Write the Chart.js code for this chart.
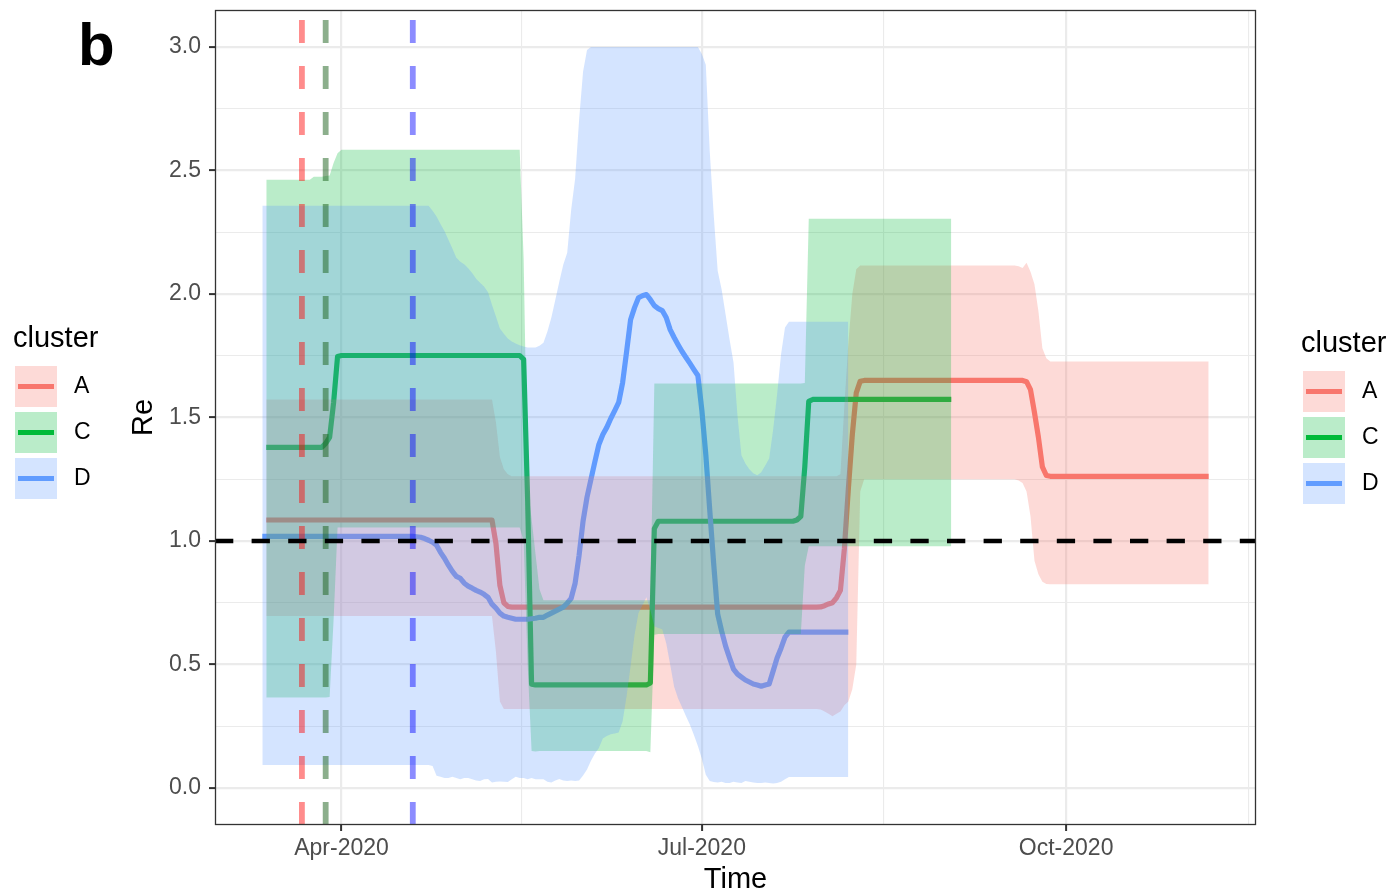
<!DOCTYPE html>
<html>
<head>
<meta charset="utf-8">
<script src="https://cdn.jsdelivr.net/npm/chart.js@4.4.1/dist/chart.umd.min.js"></script>
<style>
  html, body { margin: 0; padding: 0; background: #ffffff; }
  #wrap { position: relative; width: 1397px; height: 894px; }
</style>
</head>
<body>
<div id="wrap"><canvas id="reChart" width="1397" height="894"></canvas></div>
<script>
// ---- clusters ---------------------------------------------------------
const clusters = ['A', 'C', 'D'];
const clusterColours = ['#F8766D', '#00BA38', '#619CFF'];
const ribbonAlpha = 0.27;

// ---- cluster A: Re estimate with credible band ------------------------
const aDates = ['2020-03-13','2020-05-09','2020-05-10','2020-05-11','2020-05-12','2020-05-13','2020-05-14',
  '2020-07-30','2020-07-31','2020-08-01','2020-08-02','2020-08-03','2020-08-04','2020-08-05','2020-08-06',
  '2020-08-07','2020-08-08','2020-08-09','2020-08-10','2020-08-11','2020-09-18','2020-09-19','2020-09-20',
  '2020-09-21','2020-09-22','2020-09-23','2020-09-24','2020-09-25','2020-09-26','2020-09-27','2020-11-06'];
const aRe = [1.085,1.085,0.99,0.82,0.75,0.735,0.732,0.732,0.733,0.738,0.745,0.75,0.77,0.80,0.97,1.21,1.43,
  1.60,1.647,1.65,1.65,1.65,1.65,1.645,1.613,1.52,1.42,1.30,1.265,1.262,1.262];
const aLower = [0.696,0.696,0.55,0.35,0.32,0.32,0.32,0.32,0.318,0.31,0.30,0.29,0.30,0.31,0.335,0.35,0.40,
  0.50,1.20,1.25,1.25,1.245,1.235,1.20,1.10,0.92,0.865,0.835,0.826,0.825,0.825];
const aUpper = [1.573,1.573,1.48,1.34,1.29,1.27,1.262,1.262,1.262,1.262,1.262,1.262,1.262,1.27,1.55,1.80,
  2.00,2.10,2.115,2.115,2.115,2.112,2.105,2.127,2.09,2.04,1.93,1.78,1.74,1.727,1.727];

// ---- cluster C --------------------------------------------------------
const cDates = ['2020-03-13','2020-03-24','2020-03-25','2020-03-27','2020-03-28','2020-03-29','2020-03-30',
  '2020-03-31','2020-04-01','2020-05-16','2020-05-17','2020-05-18','2020-05-19','2020-05-20','2020-05-21',
  '2020-05-22','2020-06-17','2020-06-18','2020-06-19','2020-06-20','2020-07-24','2020-07-25','2020-07-26',
  '2020-07-27','2020-07-28','2020-07-29','2020-09-02'];
const cRe = [1.379,1.379,1.379,1.379,1.395,1.42,1.56,1.747,1.751,1.751,1.735,1.17,0.42,0.417,0.417,0.417,
  0.417,0.425,1.05,1.08,1.08,1.085,1.10,1.30,1.565,1.573,1.573];
const cLower = [0.366,0.366,0.366,0.366,0.366,0.368,0.68,1.055,1.055,1.055,1.0,0.5,0.15,0.148,0.15,0.15,
  0.15,0.145,0.62,0.623,0.623,0.623,0.623,0.90,0.979,0.979,0.979];
const cUpper = [2.463,2.463,2.475,2.475,2.478,2.48,2.53,2.57,2.584,2.584,2.14,1.23,1.09,0.946,0.805,0.76,
  0.76,0.76,1.638,1.638,1.638,1.638,1.638,1.64,2.305,2.305,2.305];

// ---- cluster D --------------------------------------------------------
const dDates = ['2020-03-12','2020-04-19','2020-04-20','2020-04-21','2020-04-22','2020-04-23','2020-04-24',
  '2020-04-25','2020-04-26','2020-04-27','2020-04-28','2020-04-29','2020-04-30','2020-05-01','2020-05-02',
  '2020-05-03','2020-05-04','2020-05-05','2020-05-06','2020-05-07','2020-05-08','2020-05-09','2020-05-10',
  '2020-05-11','2020-05-12','2020-05-13','2020-05-14','2020-05-15','2020-05-16','2020-05-17','2020-05-18',
  '2020-05-19','2020-05-20','2020-05-21','2020-05-22','2020-05-23','2020-05-24','2020-05-25','2020-05-26',
  '2020-05-27','2020-05-28','2020-05-29','2020-05-30','2020-05-31','2020-06-01','2020-06-02','2020-06-03',
  '2020-06-04','2020-06-05','2020-06-06','2020-06-07','2020-06-08','2020-06-09','2020-06-10','2020-06-11',
  '2020-06-12','2020-06-13','2020-06-14','2020-06-15','2020-06-16','2020-06-17','2020-06-18','2020-06-19',
  '2020-06-20','2020-06-21','2020-06-22','2020-06-23','2020-06-24','2020-06-25','2020-06-26','2020-06-27',
  '2020-06-28','2020-06-29','2020-06-30','2020-07-01','2020-07-02','2020-07-03','2020-07-04','2020-07-05',
  '2020-07-06','2020-07-07','2020-07-08','2020-07-09','2020-07-10','2020-07-11','2020-07-12','2020-07-13',
  '2020-07-14','2020-07-15','2020-07-16','2020-07-17','2020-07-18','2020-07-19','2020-07-20','2020-07-21',
  '2020-07-22','2020-07-23','2020-08-07'];
const dRe = [1.019,1.019,1.017,1.015,1.010,1.003,0.995,0.983,0.954,0.930,0.902,0.877,0.857,0.849,0.829,
  0.817,0.809,0.800,0.793,0.784,0.772,0.744,0.728,0.708,0.696,0.691,0.687,0.683,0.683,0.683,0.683,
  0.685,0.687,0.691,0.691,0.700,0.708,0.716,0.724,0.732,0.748,0.768,0.829,0.942,1.080,1.177,1.250,
  1.322,1.391,1.431,1.460,1.496,1.528,1.561,1.642,1.767,1.896,1.945,1.985,1.993,1.998,1.977,1.953,
  1.941,1.933,1.905,1.856,1.824,1.795,1.767,1.743,1.719,1.694,1.670,1.530,1.350,1.124,0.906,0.704,
  0.635,0.574,0.526,0.481,0.461,0.449,0.437,0.429,0.421,0.417,0.412,0.417,0.421,0.473,0.526,0.566,
  0.611,0.631,0.631];
const dLower = [0.093,0.093,0.093,0.093,0.093,0.093,0.089,0.049,0.045,0.040,0.040,0.045,0.040,0.035,0.040,
  0.040,0.035,0.030,0.028,0.035,0.036,0.022,0.025,0.026,0.025,0.024,0.035,0.045,0.040,0.040,0.035,
  0.040,0.035,0.035,0.035,0.025,0.022,0.030,0.036,0.030,0.028,0.030,0.028,0.030,0.050,0.075,0.110,
  0.140,0.162,0.200,0.210,0.217,0.220,0.225,0.270,0.372,0.493,0.619,0.708,0.740,0.772,0.720,0.655,
  0.648,0.643,0.586,0.500,0.410,0.362,0.327,0.290,0.256,0.214,0.170,0.118,0.053,0.028,0.024,0.022,
  0.025,0.020,0.020,0.025,0.022,0.020,0.028,0.025,0.022,0.020,0.020,0.022,0.020,0.018,0.020,0.025,
  0.035,0.044,0.044];
const dUpper = [2.357,2.357,2.357,2.357,2.357,2.357,2.337,2.314,2.283,2.255,2.220,2.184,2.147,2.131,2.121,
  2.104,2.085,2.062,2.046,2.030,2.007,1.957,1.909,1.860,1.839,1.820,1.808,1.800,1.793,1.787,1.783,
  1.783,1.783,1.791,1.803,1.848,1.905,1.977,2.050,2.119,2.167,2.341,2.467,2.705,2.900,2.988,3.000,
  3.000,3.000,3.000,3.000,3.000,3.000,3.000,3.000,3.000,3.000,3.000,3.000,3.000,3.000,3.000,3.000,
  3.000,3.000,3.000,3.000,3.000,3.000,3.000,3.000,3.000,3.000,3.000,2.972,2.928,2.576,2.320,2.094,
  2.018,1.917,1.816,1.723,1.508,1.347,1.314,1.290,1.274,1.266,1.278,1.306,1.334,1.450,1.593,1.755,
  1.864,1.888,1.888];

// ---- reference marks --------------------------------------------------
const onsetDates = ['2020-03-22', '2020-03-28', '2020-04-19'];
const onsetColours = ['rgba(255,0,0,0.45)', 'rgba(25,95,25,0.5)', 'rgba(0,0,255,0.45)'];
const thresholdRe = 1.0;

// ---- axes -------------------------------------------------------------
const quarterDates = ['2020-01-01', '2020-04-01', '2020-07-01', '2020-10-01', '2021-01-01'];
const quarterLabels = ['Jan-2020', 'Apr-2020', 'Jul-2020', 'Oct-2020', 'Jan-2021'];
const reTicks = [0, 0.5, 1.0, 1.5, 2.0, 2.5, 3.0];
const reLimits = [-0.15, 3.15];

// ---- helpers ----------------------------------------------------------
const ORIGIN = Date.UTC(2020, 3, 1);
function dayOf(s) {
  const [y, m, d] = s.split('-').map(Number);
  return (Date.UTC(y, m - 1, d) - ORIGIN) / 86400000;
}
function rgba(hex, a) {
  const n = parseInt(hex.slice(1), 16);
  return `rgba(${(n >> 16) & 255},${(n >> 8) & 255},${n & 255},${a})`;
}
const pts = (dates, vals) => dates.map((d, i) => ({ x: dayOf(d), y: vals[i] }));

const series = [
  { name: 'A', dates: aDates, re: aRe, lower: aLower, upper: aUpper },
  { name: 'C', dates: cDates, re: cRe, lower: cLower, upper: cUpper },
  { name: 'D', dates: dDates, re: dRe, lower: dLower, upper: dUpper }
];

// x extent: data range padded by 5 % on each side
const allDays = series.flatMap(s => s.dates.map(dayOf));
const dMin = Math.min(...allDays), dMax = Math.max(...allDays);
const xPad = (dMax - dMin) * 0.05;
const xMin = dMin - xPad, xMax = dMax + xPad;

const quarterDays = quarterDates.map(dayOf);
const majorX = quarterDays.filter(v => v >= xMin && v <= xMax);
const minorX = [];
for (let i = 0; i < quarterDays.length - 1; i++) {
  const m = (quarterDays[i] + quarterDays[i + 1]) / 2;
  if (m >= xMin && m <= xMax) minorX.push(m);
}
const xTickValues = [...majorX, ...minorX].sort((a, b) => a - b);
const isMajorX = v => majorX.includes(v);

const minorY = [];
for (let i = 0; i < reTicks.length - 1; i++) minorY.push((reTicks[i] + reTicks[i + 1]) / 2);
const yTickValues = [...reTicks, ...minorY].sort((a, b) => a - b);
const isMajorY = v => reTicks.includes(v);

const FONT = "'Liberation Sans', Arial, Helvetica, sans-serif";

// ---- datasets ---------------------------------------------------------
const datasets = [];
const base = { pointRadius: 0, pointHoverRadius: 0, pointHitRadius: 0, tension: 0, spanGaps: true };

// estimate lines sit underneath the translucent bands
series.forEach((s, i) => {
  datasets.push(Object.assign({}, base, {
    label: s.name + ' Re',
    data: pts(s.dates, s.re),
    borderColor: clusterColours[i],
    borderWidth: 5.2,
    borderCapStyle: 'butt',
    borderJoinStyle: 'round',
    fill: false,
    order: 7 - i
  }));
});

// credible bands (lower edge + upper edge filled to it)
series.forEach((s, i) => {
  datasets.push(Object.assign({}, base, {
    label: s.name + ' lower',
    data: pts(s.dates, s.lower),
    borderWidth: 0,
    borderColor: 'rgba(0,0,0,0)',
    fill: false,
    order: 3 - i
  }));
  datasets.push(Object.assign({}, base, {
    label: s.name + ' upper',
    data: pts(s.dates, s.upper),
    borderWidth: 0,
    borderColor: 'rgba(0,0,0,0)',
    backgroundColor: rgba(clusterColours[i], ribbonAlpha),
    fill: '-1',
    order: 3 - i
  }));
});

// onset markers
onsetDates.forEach((d, i) => {
  datasets.push(Object.assign({}, base, {
    label: 'onset ' + clusters[i],
    data: [{ x: dayOf(d), y: reLimits[0] }, { x: dayOf(d), y: reLimits[1] }],
    borderColor: onsetColours[i],
    borderWidth: 5.8,
    borderDash: [23, 23],
    borderCapStyle: 'butt',
    fill: false,
    order: 0
  }));
});

// epidemic threshold Re = 1
datasets.push(Object.assign({}, base, {
  label: 'threshold',
  data: [{ x: xMin, y: thresholdRe }, { x: xMax, y: thresholdRe }],
  borderColor: '#000000',
  borderWidth: 4.6,
  borderDash: [18.3, 18.3],
  borderCapStyle: 'butt',
  fill: false,
  order: -1
}));

// ---- panel border, legends and panel tag ------------------------------
const decorations = {
  id: 'decorations',
  afterDraw(chart) {
    const ctx = chart.ctx;
    const a = chart.chartArea;
    ctx.save();
    ctx.strokeStyle = '#333333';
    ctx.lineWidth = 1.3;
    ctx.strokeRect(a.left + 0.5, a.top + 0.5, a.right - a.left - 1, a.bottom - a.top - 1);

    const drawLegend = (bx, by) => {
      ctx.fillStyle = '#000000';
      ctx.textAlign = 'left';
      ctx.textBaseline = 'middle';
      ctx.font = `29px ${FONT}`;
      ctx.fillText('cluster', bx - 2, by - 27);
      clusters.forEach((c, i) => {
        const y = by + i * 46;
        ctx.fillStyle = rgba(clusterColours[i], ribbonAlpha);
        ctx.fillRect(bx, y, 42, 41);
        ctx.strokeStyle = clusterColours[i];
        ctx.lineWidth = 5;
        ctx.beginPath();
        ctx.moveTo(bx + 3, y + 20.5);
        ctx.lineTo(bx + 39, y + 20.5);
        ctx.stroke();
        ctx.fillStyle = '#000000';
        ctx.font = `23px ${FONT}`;
        ctx.fillText(c, bx + 59, y + 21);
      });
    };
    drawLegend(15, 366);
    drawLegend(1303, 371);

    ctx.fillStyle = '#000000';
    ctx.font = `bold 60px ${FONT}`;
    ctx.textAlign = 'left';
    ctx.textBaseline = 'alphabetic';
    ctx.fillText('b', 78, 65);
    ctx.restore();
  }
};

new Chart(document.getElementById('reChart'), {
  type: 'line',
  data: { datasets },
  options: {
    responsive: false,
    devicePixelRatio: 1,
    animation: false,
    events: [],
    layout: { padding: { left: 120, right: 141, top: 10, bottom: 0 } },
    plugins: { legend: { display: false }, tooltip: { enabled: false } },
    scales: {
      x: {
        type: 'linear',
        min: xMin,
        max: xMax,
        afterBuildTicks: s => { s.ticks = xTickValues.map(v => ({ value: v })); },
        afterFit: s => { s.height = 69; s.paddingLeft = 0; s.paddingRight = 0; },
        ticks: {
          autoSkip: false, maxRotation: 0, minRotation: 0, padding: 4,
          color: '#4D4D4D', font: { family: FONT, size: 23 },
          callback: v => {
            const k = quarterDays.indexOf(v);
            return k >= 0 ? quarterLabels[k] : '';
          }
        },
        grid: {
          color: '#EBEBEB',
          lineWidth: c => (c.tick && isMajorX(c.tick.value)) ? 2.2 : 1.1,
          drawTicks: true, tickLength: 6, tickWidth: 2,
          tickColor: c => (c.tick && isMajorX(c.tick.value)) ? '#333333' : 'rgba(0,0,0,0)'
        },
        border: { display: false },
        title: { display: true, text: 'Time', color: '#000000', font: { family: FONT, size: 29 }, padding: { top: 0, bottom: -3 } }
      },
      y: {
        type: 'linear',
        min: reLimits[0],
        max: reLimits[1],
        afterBuildTicks: s => { s.ticks = yTickValues.map(v => ({ value: v })); },
        afterFit: s => { s.width = 95; s.paddingTop = 0; s.paddingBottom = 0; },
        ticks: {
          autoSkip: false, padding: 8,
          color: '#4D4D4D', font: { family: FONT, size: 23 },
          callback: v => isMajorY(v) ? v.toFixed(1) : ''
        },
        grid: {
          color: '#EBEBEB',
          lineWidth: c => (c.tick && isMajorY(c.tick.value)) ? 2.2 : 1.1,
          drawTicks: true, tickLength: 6, tickWidth: 2,
          tickColor: c => (c.tick && isMajorY(c.tick.value)) ? '#333333' : 'rgba(0,0,0,0)'
        },
        border: { display: false },
        title: { display: true, text: 'Re', color: '#000000', font: { family: FONT, size: 29 }, padding: { top: 7, bottom: 0 } }
      }
    }
  },
  plugins: [decorations]
});
</script>
</body>
</html>
